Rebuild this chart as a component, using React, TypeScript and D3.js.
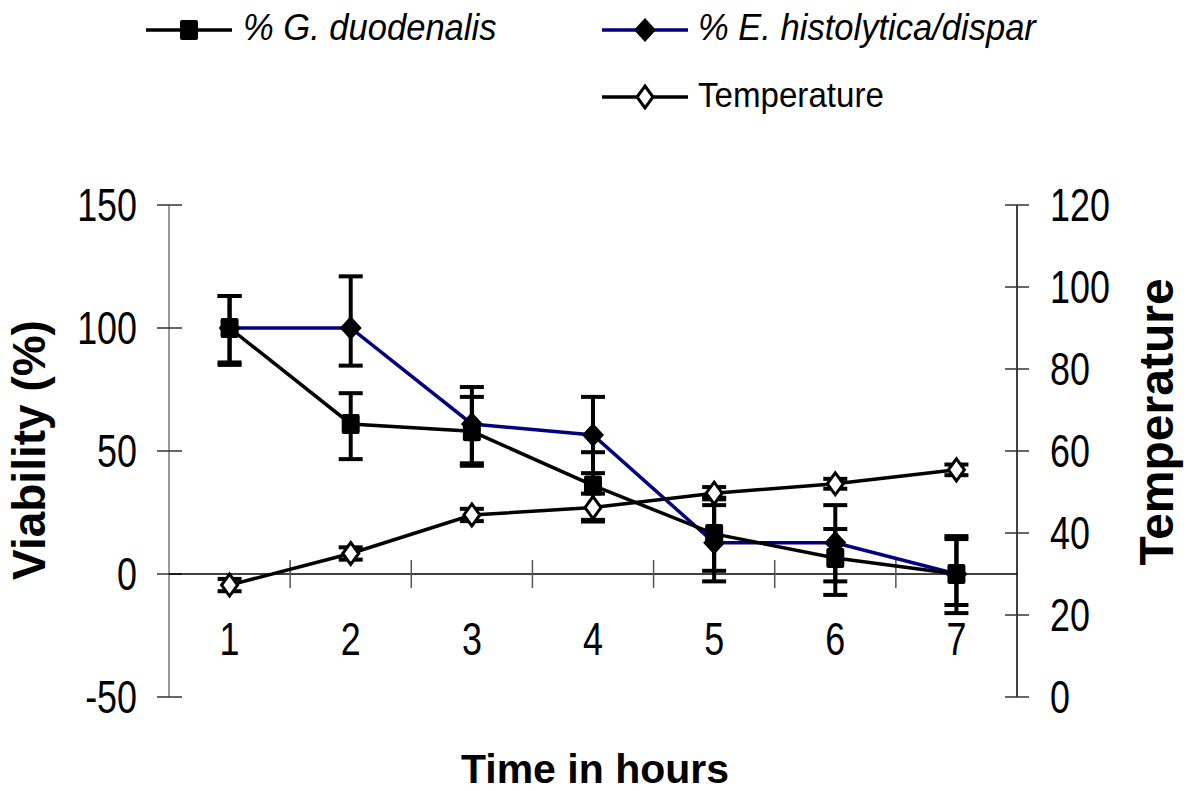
import React from 'react';
import * as d3 from 'd3';

const width = 1189;
const height = 791;

// values
const hours = [1, 2, 3, 4, 5, 6, 7];
const giardia = [100, 61, 58, 36, 16.3, 6.5, 0];
const giardiaErrUp = [13, 12.5, 14, 13.5, 14.7, 11.8, 15.4];
const giardiaErrDown = [14, 14.3, 14, 14, 15, 15, 12.6];
const entamoeba = [100, 100, 61, 56.5, 12.7, 12.7, 0];
const entamoebaErrUp = [13, 21, 15, 15.5, 15.3, 15.3, 14.2];
const entamoebaErrDown = [15, 15.3, 16, 15.5, 15.7, 15.7, 15.9];
const temperature = [27.3, 35, 44.4, 46.2, 49.7, 52, 55.4];
const temperatureErr = [1.5, 1.5, 1.5, 3.4, 1.5, 1.2, 1.3];

const leftTicks = [-50, 0, 50, 100, 150];
const rightTicks = [0, 20, 40, 60, 80, 100, 120];

const navy = '#000080';
const font = 'Liberation Sans, Arial, sans-serif';

const x = d3.scaleBand<number>().domain(hours).range([169, 1017]);
const cx = (h: number) => (x(h) as number) + x.bandwidth() / 2;
const yL = d3.scaleLinear().domain([-50, 150]).range([697, 205]);
const yR = d3.scaleLinear().domain([0, 120]).range([697, 205]);

const square = (px: number, py: number, k: string | number) => (
  <rect key={k} x={px - 9} y={py - 10} width={18} height={20} rx={2} fill="#000" />
);
const diamond = (px: number, py: number, k: string | number, open = false) => {
  const w = open ? 8 : 11;
  const h = open ? 11 : 12;
  const d = `M${px},${py - h}L${px + w},${py}L${px},${py + h}L${px - w},${py}Z`;
  return open
    ? <path key={k} d={d} fill="#fff" stroke="#000" strokeWidth={3} />
    : <path key={k} d={d} fill="#000" />;
};

function ErrorBars({ vals, up, down, y }: { vals: number[]; up: number[]; down: number[]; y: d3.ScaleLinear<number, number> }) {
  return (
    <g stroke="#000" strokeWidth={4}>
      {vals.map((v, i) => {
        const px = cx(hours[i]);
        const top = y(v + up[i]);
        const bot = y(v - down[i]);
        return (
          <g key={i}>
            <line x1={px} x2={px} y1={top} y2={bot} />
            <line x1={px - 12} x2={px + 12} y1={top} y2={top} />
            <line x1={px - 12} x2={px + 12} y1={bot} y2={bot} />
          </g>
        );
      })}
    </g>
  );
}

export default function App() {
  const lineL = d3.line<number>().x((d, i) => cx(hours[i])).y(d => yL(d));
  const lineR = d3.line<number>().x((d, i) => cx(hours[i])).y(d => yR(d));

  return (
    <svg width={width} height={height} style={{ position: 'absolute', left: 0, top: 0, background: '#fff' }} fontFamily={font}>
      {/* legend */}
      <g>
        <line x1={146} x2={232} y1={30} y2={30} stroke="#000" strokeWidth={3.5} />
        {square(189, 30, 'lg')}
        <text transform="translate(243,40) scale(0.96,1)" fontSize={36} fontStyle="italic">% G. duodenalis</text>
        <line x1={602} x2={688} y1={30} y2={30} stroke={navy} strokeWidth={3.5} />
        {diamond(645, 30, 'le')}
        <text transform="translate(698,40) scale(0.96,1)" fontSize={36} fontStyle="italic">% E. histolytica/dispar</text>
        <line x1={602} x2={688} y1={97} y2={97} stroke="#000" strokeWidth={3.5} />
        {diamond(645, 97, 'lt', true)}
        <text transform="translate(698,107) scale(0.92,1)" fontSize={36}>Temperature</text>
      </g>

      {/* axes */}
      <line x1={169} x2={169} y1={yL(150)} y2={yL(-50)} stroke="#777" strokeWidth={1.5} />
      {leftTicks.map(t => (
        <g key={t}>
          <line x1={157} x2={182} y1={yL(t)} y2={yL(t)} stroke="#333" strokeWidth={1.5} />
          <text transform={`translate(137,${yL(t)}) scale(0.78,1)`} dy="0.35em" textAnchor="end" fontSize={46}>{t}</text>
        </g>
      ))}
      <line x1={1017} x2={1017} y1={yR(120)} y2={yR(0)} stroke="#000" strokeWidth={1.5} />
      {rightTicks.map(t => (
        <g key={t}>
          <line x1={1005} x2={1029} y1={yR(t)} y2={yR(t)} stroke="#333" strokeWidth={1.5} />
          <text transform={`translate(1050,${yR(t)}) scale(0.78,1)`} dy="0.35em" fontSize={46}>{t}</text>
        </g>
      ))}
      <line x1={169} x2={1017} y1={yL(0)} y2={yL(0)} stroke="#000" strokeWidth={1.5} />
      {hours.slice(1).map(h => (
        <line key={h} x1={x(h)} x2={x(h)} y1={yL(0) - 14} y2={yL(0) + 14} stroke="#555" strokeWidth={1.5} />
      ))}
      {hours.map(h => (
        <text key={h} transform={`translate(${cx(h)},655) scale(0.78,1)`} textAnchor="middle" fontSize={46}>{h}</text>
      ))}

      {/* axis titles */}
      <text transform="translate(45,450) rotate(-90)" textAnchor="middle" fontSize={46} fontWeight="bold">Viability (%)</text>
      <text transform="translate(1173,422) rotate(-90)" textAnchor="middle" fontSize={48} fontWeight="bold">Temperature</text>
      <text x={595} y={783} textAnchor="middle" fontSize={41} fontWeight="bold">Time in hours</text>

      {/* E. histolytica/dispar */}
      <path d={lineL(entamoeba) as string} fill="none" stroke={navy} strokeWidth={3.5} />
      <ErrorBars vals={entamoeba} up={entamoebaErrUp} down={entamoebaErrDown} y={yL} />
      {entamoeba.map((v, i) => diamond(cx(hours[i]), yL(v), 'e' + i))}

      {/* G. duodenalis */}
      <path d={lineL(giardia) as string} fill="none" stroke="#000" strokeWidth={3.5} />
      <ErrorBars vals={giardia} up={giardiaErrUp} down={giardiaErrDown} y={yL} />
      {giardia.map((v, i) => square(cx(hours[i]), yL(v), 'g' + i))}

      {/* Temperature */}
      <path d={lineR(temperature) as string} fill="none" stroke="#000" strokeWidth={3.5} />
      <ErrorBars vals={temperature} up={temperatureErr} down={temperatureErr} y={yR} />
      {temperature.map((v, i) => diamond(cx(hours[i]), yR(v), 't' + i, true))}
    </svg>
  );
}
